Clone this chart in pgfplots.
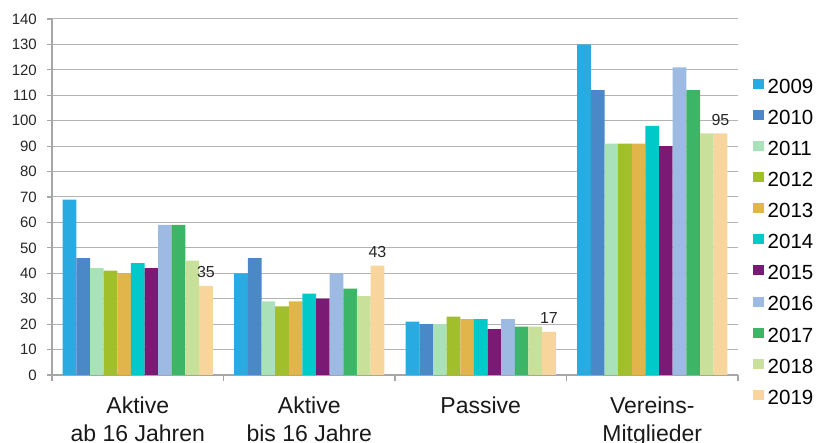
\documentclass[border=0pt]{standalone}
\usepackage{fontspec}
\setmainfont{Liberation Sans}
\usepackage{pgfplots}
\pgfplotsset{compat=1.18}
\definecolor{c09}{HTML}{29ABE2}
\definecolor{c10}{HTML}{4A88C7}
\definecolor{c11}{HTML}{A9E2B8}
\definecolor{c12}{HTML}{A1BE2B}
\definecolor{c13}{HTML}{E2B54A}
\definecolor{c14}{HTML}{00C9C9}
\definecolor{c15}{HTML}{7B1A75}
\definecolor{c16}{HTML}{9DBAE2}
\definecolor{c17}{HTML}{3DB566}
\definecolor{c18}{HTML}{C9E09B}
\definecolor{c19}{HTML}{F8D59D}
\definecolor{axgray}{HTML}{A6A6A6}
\pgfplotsset{
  sq legend/.style={legend image code/.code={\fill[##1] (0pt,-2.6pt) rectangle (10.5pt,7.4pt);}},
}
\begin{document}
\begin{tikzpicture}
\begin{axis}[
  at={(0,0)}, anchor=south west,
  scale only axis, width=686pt, height=356pt,
  xmin=-0.5, xmax=3.5, ymin=0, ymax=140,
  ybar=0pt, bar width=13.64pt,
  axis lines=left, axis line style={-, draw=axgray, line width=1.2pt},
  ytick={0,10,...,140},
  ymajorgrids, grid style={draw=axgray!85, line width=1pt},
  xtick={0,1,2,3},
  xticklabels={{Aktive\\ab 16 Jahren},{Aktive\\bis 16 Jahre},{Passive},{Vereins-\\Mitglieder}},
  minor xtick={-0.5,0.5,1.5,2.5,3.5},
  tick align=outside,
  major tick length=5pt, minor tick length=6pt,
  major x tick style={draw=none},
  major y tick style={draw=axgray, line width=1.2pt},
  minor x tick style={draw=axgray, line width=1.2pt},
  /pgf/number format/assume math mode=true,
  yticklabel style={font=\fontsize{15}{15}\selectfont, inner sep=0pt, xshift=-10pt, text=black!85},
  xticklabel style={font=\fontsize{23}{28}\selectfont, align=center, inner sep=0pt, yshift=-17pt, text=black!90},
  legend style={at={(1.0219,0.8325)}, anchor=north west, draw=none, fill=none, inner sep=0pt,
    font=\fontsize{20.5}{20.5}\selectfont, row sep=16.7pt,
    nodes={inner xsep=4pt, inner ysep=0pt, text height=14pt, text depth=0pt}},
  legend cell align=left,
]
\addplot[fill=c09, draw=none, sq legend] coordinates {(0,69) (1,40) (2,21) (3,130)};
\addplot[fill=c10, draw=none, sq legend] coordinates {(0,46) (1,46) (2,20) (3,112)};
\addplot[fill=c11, draw=none, sq legend] coordinates {(0,42) (1,29) (2,20) (3,91)};
\addplot[fill=c12, draw=none, sq legend] coordinates {(0,41) (1,27) (2,23) (3,91)};
\addplot[fill=c13, draw=none, sq legend] coordinates {(0,40) (1,29) (2,22) (3,91)};
\addplot[fill=c14, draw=none, sq legend] coordinates {(0,44) (1,32) (2,22) (3,98)};
\addplot[fill=c15, draw=none, sq legend] coordinates {(0,42) (1,30) (2,18) (3,90)};
\addplot[fill=c16, draw=none, sq legend] coordinates {(0,59) (1,40) (2,22) (3,121)};
\addplot[fill=c17, draw=none, sq legend] coordinates {(0,59) (1,34) (2,19) (3,112)};
\addplot[fill=c18, draw=none, sq legend] coordinates {(0,45) (1,31) (2,19) (3,95)};
\addplot[fill=c19, draw=none, sq legend, nodes near coords,
  nodes near coords style={font=\fontsize{16}{16}\selectfont, inner sep=0pt, anchor=south, yshift=8pt, text=black!85}]
  coordinates {(0,35) (1,43) (2,17) (3,95)};
\legend{2009,2010,2011,2012,2013,2014,2015,2016,2017,2018,2019}
\end{axis}
\pgfresetboundingbox
\useasboundingbox (-52pt,-68pt) rectangle (766pt,375pt);
\end{tikzpicture}
\end{document}
